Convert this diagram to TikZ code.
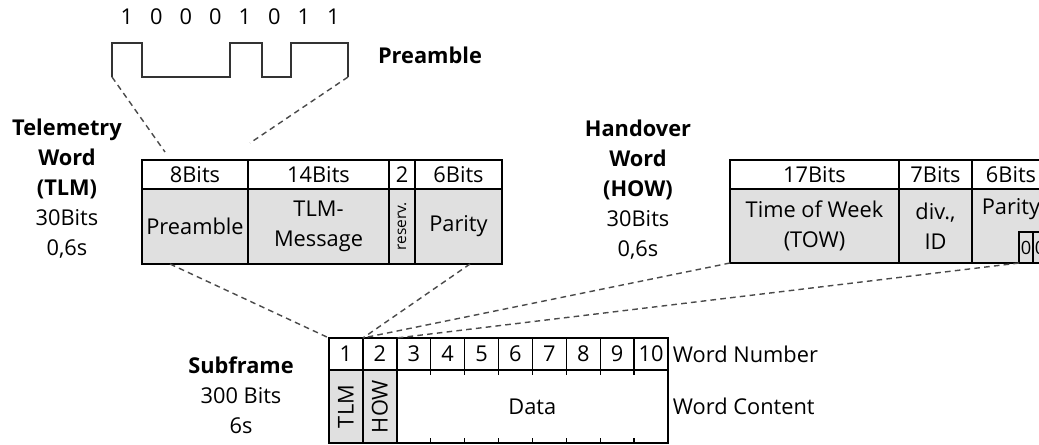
\documentclass[tikz,border=0pt]{standalone}
\usepackage{fontspec}
\setmainfont{Open Sans}
\usetikzlibrary{positioning,calc}
\newlength\pxu
\setlength\pxu{0.025cm}
\definecolor{fieldgray}{HTML}{E0E0E0}
\definecolor{dashgray}{HTML}{4A4A4A}

\tikzset{
  hdr/.style={draw, line width=1pt, minimum height=29*\pxu, inner sep=0pt, outer sep=0pt},
  fld/.style={draw, line width=1pt, fill=fieldgray, inner sep=0pt, outer sep=0pt, align=center},
  zoomline/.style={dashgray, dash pattern=on 4pt off 3pt, line width=1pt},
  parbit/.style={draw, line width=1pt, minimum width=14*\pxu, minimum height=31*\pxu, inner sep=0pt, outer sep=0pt, anchor=south west},
}

\begin{document}
\begin{tikzpicture}[x=0.025cm, y=-0.025cm, font=\fontsize{15.5}{21.3}\selectfont]
  \useasboundingbox (0,0) rectangle (1039,445);
  \clip (0,0) rectangle (1039,445);

  % preamble bit pattern
  \foreach \b [count=\i] in {1,0,0,0,1,0,1,1}
    \node (bit\i) at ({112+29.5*(\i-0.5)},17) {\b};
  \draw[line width=1pt, black!80] (112,77) coordinate (wavestart) -- (112,43) -- (142,43) -- (142,77)
    -- (230,77) -- (230,43) -- (262,43) -- (262,77) -- (291,77) -- (291,43) -- (348,43)
    -- (348,77) coordinate (waveend);
  \node (prelabel) at (430,55) {\textbf{Preamble}};

  % telemetry word
  \node[align=center] (tlmlabel) at (67,189) {\textbf{Telemetry}\\\textbf{Word}\\\textbf{(TLM)}\\30Bits\\0,6s};
  \node[hdr, minimum width=106*\pxu, anchor=north west] (t1h) at (142,160) {8Bits};
  \node[hdr, minimum width=141*\pxu, right=0pt of t1h] (t2h) {14Bits};
  \node[hdr, minimum width=26*\pxu, right=0pt of t2h] (t3h) {2};
  \node[hdr, minimum width=87*\pxu, right=0pt of t3h] (t4h) {6Bits};
  \node[fld, minimum width=106*\pxu, minimum height=75*\pxu, below=0pt of t1h] (t1) {Preamble};
  \node[fld, minimum width=141*\pxu, minimum height=75*\pxu, below=0pt of t2h] (t2) {TLM-\\Message};
  \node[fld, minimum width=26*\pxu, minimum height=75*\pxu, below=0pt of t3h] (t3) {\rotatebox{90}{\fontsize{11}{11}\selectfont reserv.}};
  \node[fld, minimum width=87*\pxu, minimum height=75*\pxu, below=0pt of t4h] (t4) {Parity};

  % handover word
  \node[align=center] (howlabel) at (638,190) {\textbf{Handover}\\\textbf{Word}\\\textbf{(HOW)}\\30Bits\\0,6s};
  \node[hdr, minimum width=169*\pxu, anchor=north west] (h1h) at (730,160) {17Bits};
  \node[hdr, minimum width=73*\pxu, right=0pt of h1h] (h2h) {7Bits};
  \node[hdr, minimum width=78*\pxu, right=0pt of h2h] (h3h) {6Bits};
  \node[fld, minimum width=169*\pxu, minimum height=74*\pxu, below=0pt of h1h] (h1) {Time of Week\\(TOW)};
  \node[fld, minimum width=73*\pxu, minimum height=74*\pxu, below=0pt of h2h] (h2) {div.,\\ID};
  \node[fld, minimum width=78*\pxu, minimum height=74*\pxu, below=0pt of h3h] (h3) {Parity\\\strut};
  \node[parbit] (par1) at ($(h3.south west)+(47,0)$) {\fontsize{13}{13}\selectfont 0};
  \node[parbit] (par2) at (par1.south east) {\fontsize{13}{13}\selectfont 0};

  % subframe
  \node[align=center] (sublabel) at (241,395) {\textbf{Subframe}\\300 Bits\\6s};
  \foreach \i in {1,...,10}
    \node[hdr, minimum width=33.9*\pxu, minimum height=32*\pxu] (w\i) at ({329+33.9*(\i-0.5)},354) {\i};
  \node[fld, minimum width=33.9*\pxu, minimum height=73*\pxu, below=0pt of w1] (c1) {\rotatebox{90}{TLM}};
  \node[fld, minimum width=33.9*\pxu, minimum height=73*\pxu, below=0pt of w2] (c2) {\rotatebox{90}{HOW}};
  \node[draw, line width=1pt, inner sep=0pt, outer sep=0pt, minimum width=271.2*\pxu, minimum height=73*\pxu, anchor=north west] (c3) at (w3.south west) {Data};
  \foreach \i in {3,...,9} {
    \draw[line width=1pt] (w\i.south east) -- ++(0,5);
    \draw[line width=1pt] (c3.south west -| w\i.east) -- ++(0,-5);
  }
  \node[anchor=west] (wnum) at (w10.east) {Word Number};
  \node[anchor=west] (wcont) at (c3.east) {Word Content};

  % zoom lines
  \coordinate (preL) at (165,152);
  \coordinate (preR) at (250,143);
  \draw[zoomline] (wavestart) -- (preL);
  \draw[zoomline] (waveend) -- (preR);
  \draw[zoomline] ($(t1.south west)+(28,0)$) -- (w1.north west);
  \draw[zoomline] ($(t4.south west)+(55,0)$) -- (w2.north west);
  \draw[zoomline] (h1.south west) -- (w2.north west);
  \draw[zoomline] (par1.south west) -- (w2.north east);
\end{tikzpicture}
\end{document}
